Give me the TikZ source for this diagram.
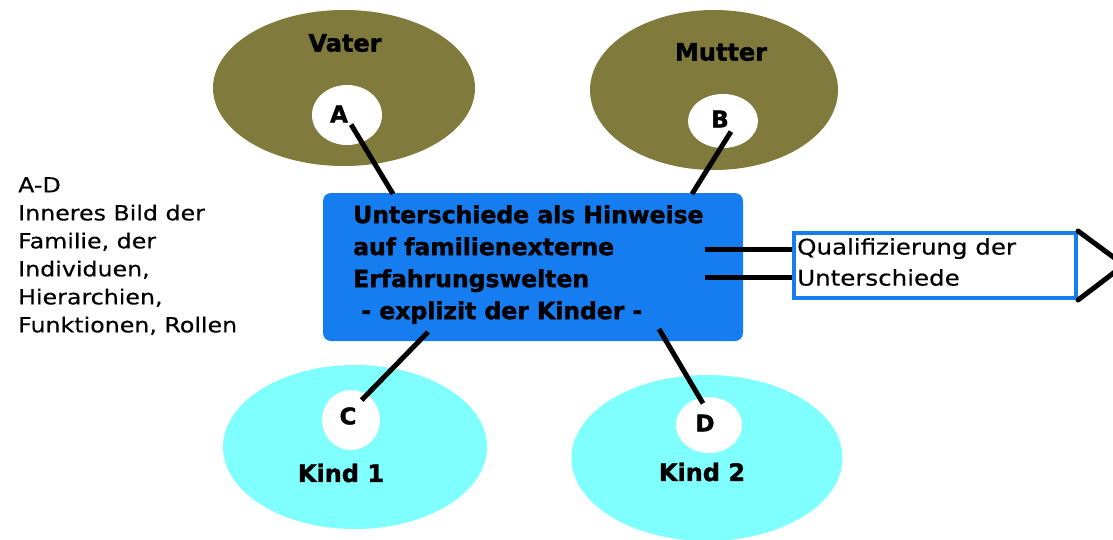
\documentclass[tikz,border=0pt]{standalone}
\usepackage{fontspec}
\setmainfont{DejaVu Sans}
\newfontfamily\regf[FakeStretch=1.14,FakeBold=0.4]{DejaVu Sans}
\newfontfamily\boldf[FakeBold=1.6]{DejaVu Sans Bold}
\usetikzlibrary{shapes.geometric,calc}
\definecolor{olive}{RGB}{128,122,60}
\definecolor{lcyan}{RGB}{128,255,255}
\definecolor{mblue}{RGB}{22,125,240}
\begin{document}
\begin{tikzpicture}[x=1pt,y=-1pt,
  oval/.style={ellipse,draw=none,inner sep=0},
  hole/.style={ellipse,fill=white,draw=none,inner sep=0},
  lab/.style={font=\boldf\fontsize{24}{28}\selectfont,inner sep=0},
  letter/.style={font=\boldf\fontsize{23}{26}\selectfont,inner sep=1pt},
  conn/.style={line width=5pt,black},
]
\useasboundingbox (0,0) rectangle (1113,539);
% ellipses
\node[oval,fill=olive,minimum width=262,minimum height=156] (vater) at (344,88) {};
\node[oval,fill=olive,minimum width=248,minimum height=160] (mutter) at (714,90) {};
\node[oval,fill=lcyan,minimum width=264,minimum height=164] (kind1) at (355,447) {};
\node[oval,fill=lcyan,minimum width=271,minimum height=166] (kind2) at (707,458) {};
% holes
\node[hole,minimum width=70,minimum height=60] (holeA) at (347,115) {};
\node[hole,minimum width=70,minimum height=54] (holeB) at (723,121) {};
\node[hole,minimum width=58,minimum height=60] (holeC) at (351,420) {};
\node[hole,minimum width=66,minimum height=56] (holeD) at (709,425) {};
% labels
\node[lab] (tv) at (345,43) {Vater};
\node[lab] (tm) at (721,52) {Mutter};
\node[lab] (tk1) at (341,473) {Kind 1};
\node[lab] (tk2) at (702,472) {Kind 2};
\node[letter] (labA) at (339,114) {A};
\node[letter] (labB) at (720,119) {B};
\node[letter] (labC) at (348,416) {C};
\node[letter] (labD) at (705,423) {D};
% central box
\node[rectangle,rounded corners=8pt,fill=mblue,minimum width=420,minimum height=148,inner sep=0] (box) at (533,267) {};
\node[anchor=north west,inner sep=0,align=left,font=\boldf\fontsize{23.5}{32}\selectfont] (boxtext) at (353,205)
 {Unterschiede als Hinweise\\auf familienexterne\\Erfahrungswelten\\ \ - explizit der Kinder -};
% qualification box
\node[rectangle,draw=mblue,line width=4pt,fill=white,minimum width=282,minimum height=65,inner sep=0] (qual) at (935,265.5) {};
\node[anchor=north west,inner sep=0,align=left,font=\regf\fontsize{21.5}{31}\selectfont] (qualtext) at (797,238)
 {Qualifizierung der\\Unterschiede};
% left text
\node[anchor=north west,inner sep=0,align=left,font=\regf\fontsize{20.8}{28}\selectfont] (legend) at (18,177)
 {A-D\\Inneres Bild der\\Familie, der\\Individuen,\\Hierarchien,\\Funktionen, Rollen};
% connector end points
\coordinate (eA) at (393,194);
\coordinate (eB) at (692,194);
\coordinate (eC) at (428,332);
\coordinate (eD) at (659,329);
\coordinate (r1) at (705,249);
\coordinate (r2) at (705,277);
\coordinate (tip) at (1124,265);
% connectors
\draw[conn] ($(labA.south east)+(2,1)$) -- (eA);
\draw[conn] ($(labB.south east)+(1,3)$) -- (eB);
\draw[conn] ($(labC.north east)+(4,-6)$) -- (eC);
\draw[conn] ($(labD.north)+(-2,-10)$) -- (eD);
\draw[conn] (r1) -- (qual.west |- r1);
\draw[conn] (r2) -- (qual.west |- r2);
\draw[conn,line cap=round] (qual.north east) -- (tip) -- (qual.south east);
\end{tikzpicture}
\end{document}
